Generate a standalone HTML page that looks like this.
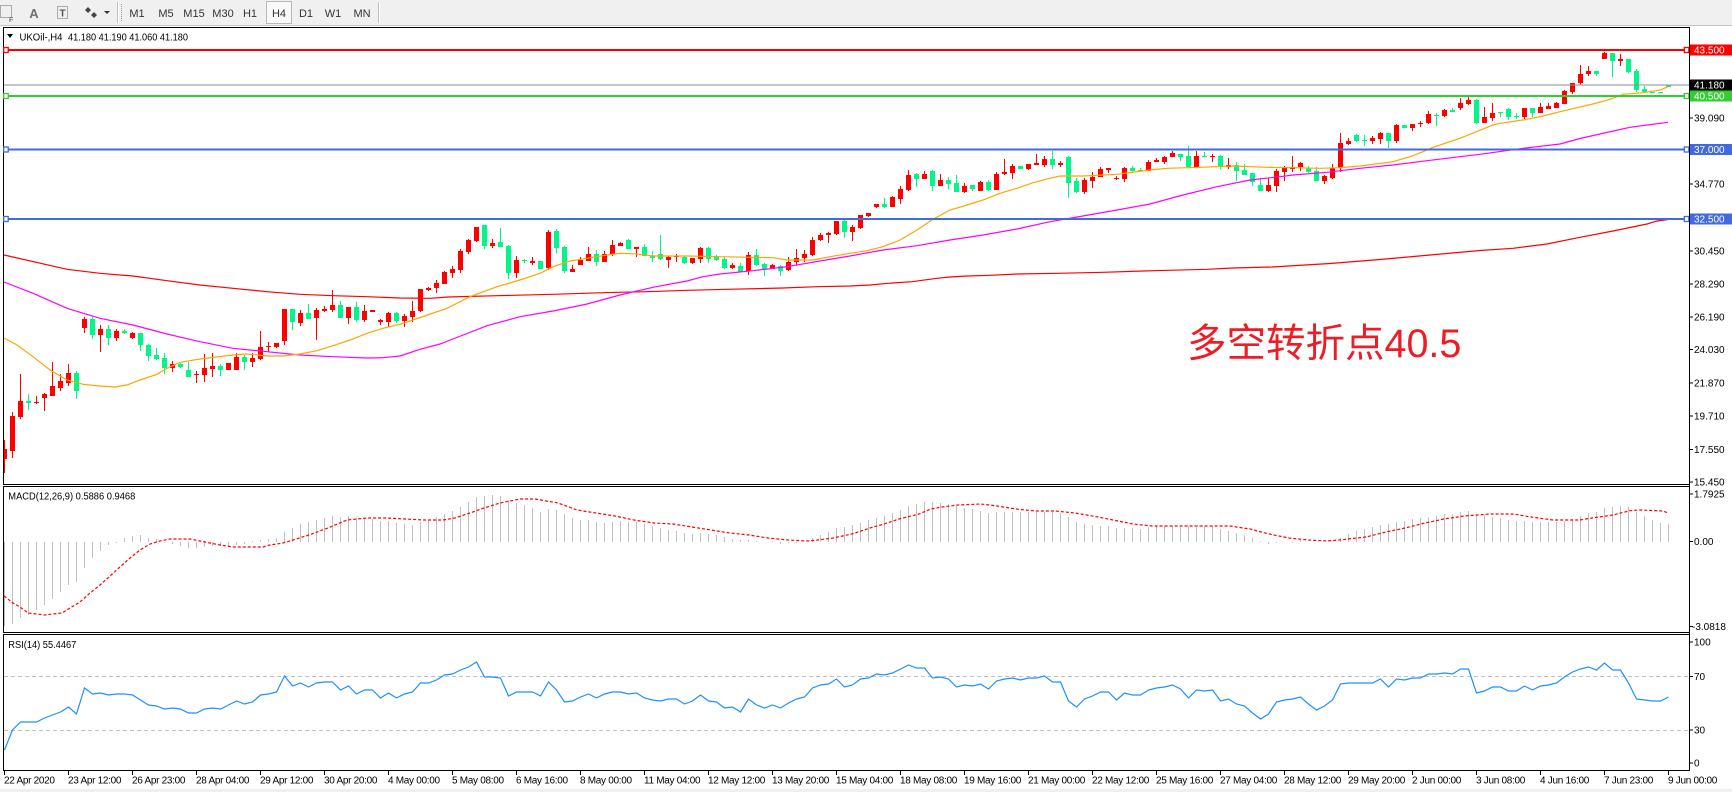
<!DOCTYPE html>
<html><head><meta charset="utf-8"><style>
html,body{margin:0;padding:0;background:#fff;overflow:hidden;width:1732px;height:792px}
svg{display:block}
text{font-family:"Liberation Sans",Arial,sans-serif}
</style></head><body>
<svg width="1732" height="792" viewBox="0 0 1732 792" xmlns="http://www.w3.org/2000/svg">
<defs><clipPath id="cm"><rect x="4" y="28" width="1685" height="457"/></clipPath></defs>
<rect x="0" y="0" width="1732" height="792" fill="#fff"/>
<!-- toolbar -->
<rect x="0" y="0" width="1732" height="25" fill="#f0f0f0"/>
<line x1="0" y1="25.5" x2="1732" y2="25.5" stroke="#c4c4c4"/>
<rect x="0.5" y="5.5" width="11" height="12" fill="none" stroke="#666" stroke-dasharray="1,1"/>
<text x="9" y="22" font-size="7" fill="#444">F</text>
<text x="34" y="18" font-size="13" font-weight="bold" fill="#707070" text-anchor="middle">A</text>
<rect x="57.5" y="6.5" width="10" height="12" fill="none" stroke="#666" stroke-dasharray="1,1"/>
<text x="62.5" y="16.5" font-size="10" font-weight="bold" fill="#555" text-anchor="middle">T</text>
<path d="M85 10l3-3 3 3-3 3zM91 15l3-3 3 3-3 3z" fill="#444"/>
<path d="M104 11h6l-3 3z" fill="#333"/>
<line x1="117.5" y1="2" x2="117.5" y2="23" stroke="#c0c0c0"/><line x1="118.5" y1="2" x2="118.5" y2="23" stroke="#fff"/>
<line x1="121.5" y1="4" x2="121.5" y2="22" stroke="#999" stroke-dasharray="1,1"/>
<rect x="266.5" y="1.5" width="25" height="22" fill="#f9f9f9" stroke="#b8b8b8"/>
<g font-size="11" fill="#333" text-anchor="middle">
<text x="137" y="17">M1</text><text x="166" y="17">M5</text><text x="194" y="17">M15</text><text x="223" y="17">M30</text><text x="250" y="17">H1</text><text x="279" y="17">H4</text><text x="306" y="17">D1</text><text x="333" y="17">W1</text><text x="362" y="17">MN</text>
</g>
<line x1="378.5" y1="2" x2="378.5" y2="23" stroke="#c0c0c0"/><line x1="379.5" y1="2" x2="379.5" y2="23" stroke="#fff"/>
<rect x="0" y="789" width="1732" height="3" fill="#f0f0f0"/>

<!-- panel borders -->
<g stroke="#000" stroke-width="1" fill="none">
<rect x="3.5" y="27.5" width="1686" height="457"/>
<rect x="3.5" y="486.5" width="1686" height="146"/>
<rect x="3.5" y="634.5" width="1686" height="136"/>
</g>

<!-- main chart -->
<g clip-path="url(#cm)" shape-rendering="crispEdges">
<path fill="none" stroke="#ff0000" stroke-width="1" d="M4.5 440V473M12.5 412V458M20.5 374V419M36.5 396V404M44.5 393V411M52.5 362V396M60.5 374V391M68.5 364V386M84.5 317V333M100.5 325V352M116.5 329V341M132.5 332V339M172.5 361V372M196.5 371V383M204.5 354V382M212.5 353V377M228.5 363V370M236.5 353V370M252.5 353V367M260.5 331V360M268.5 342V352M276.5 343V348M284.5 309V345M300.5 310V326M316.5 308V340M324.5 306V312M332.5 290V312M348.5 307V324M364.5 305V322M372.5 310V312M380.5 319V325M388.5 312V327M404.5 314V327M412.5 301V322M420.5 289V312M428.5 287V291M436.5 280V293M444.5 271V284M452.5 266V278M460.5 249V273M468.5 239V254M476.5 227V242M492.5 239V248M516.5 256V278M532.5 257V265M548.5 230V270M572.5 265V272M580.5 257V265M588.5 247V261M604.5 251V262M612.5 240V256M620.5 242V246M636.5 247V257M668.5 256V268M676.5 254V262M692.5 258V264M700.5 247V263M732.5 263V269M748.5 252V275M772.5 264V269M788.5 257V271M796.5 249V265M804.5 250V262M812.5 237V256M820.5 233V241M828.5 232V243M836.5 221V235M852.5 225V241M860.5 215V229M868.5 213V217M876.5 204V208M892.5 196V207M900.5 186V204M908.5 170V191M924.5 171V179M940.5 174V186M964.5 183V193M980.5 181V191M996.5 172V190M1004.5 159V175M1012.5 164V179M1028.5 164V170M1036.5 154V165M1044.5 156V167M1060.5 161V167M1084.5 178V194M1092.5 172V188M1100.5 167V177M1108.5 168V173M1116.5 176V180M1124.5 167V182M1148.5 160V171M1156.5 158V162M1164.5 156V164M1172.5 151V157M1196.5 151V168M1212.5 154V162M1228.5 158V169M1268.5 178V192M1276.5 169V192M1284.5 166V181M1292.5 156V172M1300.5 162V171M1324.5 175V184M1332.5 164V179M1340.5 133V172M1348.5 138V145M1372.5 136V144M1380.5 132V144M1396.5 124V143M1412.5 124V131M1420.5 121V127M1428.5 111V124M1444.5 109V117M1460.5 98V110M1468.5 97V105M1484.5 107V123M1492.5 103V121M1524.5 108V119M1540.5 103V113M1548.5 103V109M1556.5 102V108M1564.5 90V104M1572.5 83V94M1580.5 65V85M1588.5 66V76M1604.5 52V59M1620.5 54V66"/>
<path fill="#ff0000" d="M2 449h5v10h-5zM10 416h5v35h-5zM18 401h5v16h-5zM34 402h5v1h-5zM42 394h5v4h-5zM50 386h5v10h-5zM58 381h5v7h-5zM66 373h5v10h-5zM82 319h5v9h-5zM98 329h5v6h-5zM114 331h5v7h-5zM130 333h5v5h-5zM170 364h5v4h-5zM194 374h5v1h-5zM202 368h5v7h-5zM210 366h5v3h-5zM226 363h5v7h-5zM234 357h5v13h-5zM250 358h5v4h-5zM258 347h5v12h-5zM266 346h5v1h-5zM274 343h5v4h-5zM282 309h5v32h-5zM298 313h5v10h-5zM314 310h5v8h-5zM322 309h5v2h-5zM330 305h5v5h-5zM346 307h5v11h-5zM362 311h5v9h-5zM370 310h5v2h-5zM378 320h5v2h-5zM386 313h5v9h-5zM402 316h5v5h-5zM410 311h5v6h-5zM418 289h5v22h-5zM426 288h5v2h-5zM434 283h5v5h-5zM442 272h5v12h-5zM450 269h5v4h-5zM458 251h5v19h-5zM466 240h5v12h-5zM474 227h5v14h-5zM490 243h5v3h-5zM514 260h5v13h-5zM530 261h5v2h-5zM546 232h5v36h-5zM570 269h5v3h-5zM578 260h5v5h-5zM586 254h5v7h-5zM602 254h5v8h-5zM610 245h5v9h-5zM618 243h5v3h-5zM634 247h5v2h-5zM666 257h5v3h-5zM674 256h5v1h-5zM690 258h5v5h-5zM698 248h5v11h-5zM730 265h5v3h-5zM746 255h5v16h-5zM770 265h5v4h-5zM786 262h5v8h-5zM794 258h5v4h-5zM802 254h5v4h-5zM810 240h5v15h-5zM818 235h5v5h-5zM826 233h5v2h-5zM834 221h5v13h-5zM850 227h5v5h-5zM858 215h5v13h-5zM866 213h5v3h-5zM874 204h5v3h-5zM890 197h5v10h-5zM898 189h5v10h-5zM906 175h5v15h-5zM922 174h5v5h-5zM938 180h5v6h-5zM962 186h5v6h-5zM978 182h5v9h-5zM994 174h5v16h-5zM1002 172h5v2h-5zM1010 166h5v7h-5zM1026 164h5v5h-5zM1034 163h5v2h-5zM1042 159h5v6h-5zM1058 163h5v2h-5zM1082 180h5v12h-5zM1090 177h5v4h-5zM1098 169h5v8h-5zM1106 168h5v2h-5zM1114 178h5v1h-5zM1122 168h5v11h-5zM1146 162h5v9h-5zM1154 160h5v2h-5zM1162 157h5v5h-5zM1170 153h5v4h-5zM1194 156h5v11h-5zM1210 156h5v1h-5zM1226 165h5v2h-5zM1266 185h5v6h-5zM1274 171h5v15h-5zM1282 168h5v4h-5zM1290 167h5v2h-5zM1298 163h5v4h-5zM1322 176h5v5h-5zM1330 168h5v10h-5zM1338 143h5v25h-5zM1346 141h5v3h-5zM1370 138h5v3h-5zM1378 133h5v6h-5zM1394 125h5v16h-5zM1410 124h5v4h-5zM1418 123h5v1h-5zM1426 114h5v9h-5zM1442 110h5v6h-5zM1458 103h5v5h-5zM1466 100h5v4h-5zM1482 117h5v6h-5zM1490 113h5v5h-5zM1522 108h5v9h-5zM1538 107h5v6h-5zM1546 106h5v3h-5zM1554 103h5v5h-5zM1562 91h5v13h-5zM1570 83h5v9h-5zM1578 74h5v9h-5zM1586 71h5v3h-5zM1602 53h5v6h-5zM1618 59h5v2h-5z"/>
<path fill="none" stroke="#00f58a" stroke-width="1" d="M28.5 394V410M76.5 371V399M92.5 317V339M108.5 325V345M124.5 329V334M140.5 333V351M148.5 344V361M156.5 348V360M164.5 353V374M180.5 363V368M188.5 362V377M220.5 364V376M244.5 355V370M292.5 309V330M308.5 304V319M340.5 301V318M356.5 302V322M396.5 312V323M484.5 225V249M500.5 228V247M508.5 245V279M524.5 259V263M540.5 261V269M556.5 229V253M564.5 246V273M596.5 250V266M628.5 239V249M644.5 244V256M652.5 251V262M660.5 235V260M684.5 256V264M708.5 247V263M716.5 255V261M724.5 257V269M740.5 263V272M756.5 249V266M764.5 263V276M780.5 265V276M844.5 220V238M884.5 198V208M916.5 173V187M932.5 170V191M948.5 177V189M956.5 175V192M972.5 185V191M988.5 180V191M1020.5 166V169M1052.5 151V169M1068.5 156V198M1076.5 178V193M1132.5 166V173M1140.5 168V172M1180.5 154V161M1188.5 146V167M1204.5 152V157M1220.5 155V169M1236.5 162V181M1244.5 164V175M1252.5 173V186M1260.5 178V191M1308.5 166V173M1316.5 167V181M1356.5 134V142M1364.5 135V146M1388.5 133V148M1404.5 125V128M1436.5 113V126M1452.5 108V112M1476.5 99V124M1500.5 112V117M1508.5 108V120M1516.5 113V119M1532.5 108V117M1596.5 71V76M1612.5 53V77M1628.5 59V73M1636.5 69V92M1644.5 86V93M1652.5 92V93M1660.5 92V93M1668.5 85V87"/>
<path fill="#00f58a" d="M26 401h5v2h-5zM74 373h5v18h-5zM90 319h5v16h-5zM106 329h5v9h-5zM122 331h5v2h-5zM138 333h5v12h-5zM146 345h5v11h-5zM154 355h5v4h-5zM162 358h5v10h-5zM178 364h5v3h-5zM186 370h5v7h-5zM218 366h5v4h-5zM242 357h5v5h-5zM290 309h5v13h-5zM306 313h5v6h-5zM338 305h5v13h-5zM354 307h5v13h-5zM394 313h5v8h-5zM482 225h5v21h-5zM498 242h5v5h-5zM506 246h5v27h-5zM522 260h5v1h-5zM538 261h5v8h-5zM554 231h5v17h-5zM562 247h5v24h-5zM594 254h5v8h-5zM626 240h5v9h-5zM642 247h5v9h-5zM650 256h5v2h-5zM658 254h5v5h-5zM682 257h5v6h-5zM706 248h5v11h-5zM714 257h5v3h-5zM722 259h5v9h-5zM738 266h5v6h-5zM754 255h5v10h-5zM762 264h5v5h-5zM778 266h5v5h-5zM842 221h5v11h-5zM882 204h5v3h-5zM914 174h5v5h-5zM930 171h5v15h-5zM946 180h5v4h-5zM954 183h5v9h-5zM970 185h5v4h-5zM986 182h5v8h-5zM1018 166h5v3h-5zM1050 159h5v6h-5zM1066 157h5v26h-5zM1074 181h5v11h-5zM1130 168h5v3h-5zM1138 170h5v1h-5zM1178 154h5v3h-5zM1186 156h5v11h-5zM1202 156h5v1h-5zM1218 156h5v11h-5zM1234 165h5v6h-5zM1242 170h5v5h-5zM1250 173h5v9h-5zM1258 185h5v6h-5zM1306 168h5v4h-5zM1314 171h5v10h-5zM1354 135h5v6h-5zM1362 140h5v1h-5zM1386 133h5v8h-5zM1402 125h5v3h-5zM1434 115h5v1h-5zM1450 110h5v2h-5zM1474 100h5v23h-5zM1498 112h5v1h-5zM1506 109h5v8h-5zM1514 116h5v1h-5zM1530 108h5v5h-5zM1594 71h5v3h-5zM1610 53h5v8h-5zM1626 59h5v13h-5zM1634 71h5v19h-5zM1642 89h5v3h-5zM1650 92h5v1h-5zM1658 92h5v1h-5zM1666 85h5v2h-5z"/>
</g>
<g clip-path="url(#cm)" fill="none" stroke-width="1.2">
<polyline stroke="#ff0000" points="4,255 67,269.3 100,273.3 133,276 167,280.7 200,285 233,288.3 267,291.7 300,294.3 333,295.7 367,296.7 400,298 430,298.3 448,297 497,295.7 553,294.3 583,293.3 617,292.3 647,291.7 687,290.3 727,289.3 783,288 817,286.7 850,286 870,285 888,283.3 912,281.7 937,278.3 950,277 967,276 990,275.3 1017,274 1057,273.3 1103,272.3 1143,271 1167,270.3 1207,269.3 1233,268 1272,267 1330,263.5 1380,259.5 1430,255 1480,250.5 1513,248.3 1547,244 1580,237.3 1613,231 1647,224 1657,221 1668,219.5"/>
<polyline stroke="#ff00ff" points="4,282 33,293.3 67,308.3 100,318.3 133,325 167,334 200,341.7 233,348.3 267,351.7 300,355 333,356.7 367,358 383,357.7 400,356 420,349.3 440,344 453,339 487,325.7 520,316.7 553,311 587,304 620,295 653,287.3 687,281 703,276.7 720,274 753,270.7 787,266.7 820,261 850,256 883,250 917,245.7 950,240 983,235 1017,229 1050,221.7 1083,216 1117,210 1150,204 1183,195 1217,186.7 1250,180 1280,176.7 1293,175 1327,172.3 1360,168.3 1393,165 1427,160.7 1460,156.7 1480,154.3 1523,148.3 1560,144 1580,138.5 1600,134 1630,127.3 1668,122.3"/>
<polyline stroke="#ffa500" points="4,338 17,345 33,356.7 50,370 67,380 83,384.3 100,386 115,387 127,385 140,380 157,374.3 167,368.3 180,362.3 200,359 233,355 247,354 267,356 283,356 300,354 317,350.7 333,345.7 350,340 367,333.3 383,328.3 400,324.3 420,317.5 447,308.3 470,296.7 497,286.7 520,280 540,273.3 553,266.7 570,261 587,258.3 607,255 620,253.3 637,254 653,256 687,256 720,256.7 753,257.3 773,257.7 787,260 813,260 830,256.7 850,253.3 867,250.7 883,246.7 900,240 917,230 933,219.3 950,210 967,205 983,200 1000,193.3 1017,188.3 1033,182.7 1050,178.3 1060,176 1083,176 1117,174.3 1150,170 1167,168.3 1200,167.3 1233,166 1267,167.3 1293,167.7 1320,168.3 1340,167.7 1360,166 1393,161.7 1410,156.7 1423,151.7 1433,147.3 1460,138.3 1493,125 1500,123.3 1527,119.3 1543,116 1560,111.7 1577,107.7 1593,104 1610,99.3 1623,94.3 1643,92.7 1660,90 1668,86.7"/>
</g>

<!-- horizontal objects -->
<line x1="4" y1="85" x2="1689" y2="85" stroke="#8c8c8c" stroke-width="1"/>
<line x1="4" y1="50" x2="1689" y2="50" stroke="#ff0000" stroke-width="2"/>
<line x1="4" y1="96" x2="1689" y2="96" stroke="#32cd32" stroke-width="2"/>
<line x1="4" y1="149.5" x2="1689" y2="149.5" stroke="#4169e1" stroke-width="2"/>
<line x1="4" y1="219" x2="1689" y2="219" stroke="#4169e1" stroke-width="2"/>
<g fill="#fff" stroke-width="1.3">
<rect x="3.7" y="47.5" width="4.5" height="5" stroke="#ff0000"/>
<rect x="3.7" y="93.5" width="4.5" height="5" stroke="#32cd32"/>
<rect x="3.7" y="147" width="4.5" height="5" stroke="#4169e1"/>
<rect x="3.7" y="216.5" width="4.5" height="5" stroke="#4169e1"/>
<rect x="1684.3" y="47.5" width="4.5" height="5" stroke="#ff0000"/>
<rect x="1684.3" y="93.5" width="4.5" height="5" stroke="#32cd32"/>
<rect x="1684.3" y="147" width="4.5" height="5" stroke="#4169e1"/>
<rect x="1684.3" y="216.5" width="4.5" height="5" stroke="#4169e1"/>
</g>

<!-- header -->
<path d="M7 34h6l-3 4z" fill="#000"/>
<text x="19.5" y="40.3" font-size="10" fill="#000" textLength="43" lengthAdjust="spacingAndGlyphs">UKOil-,H4</text>
<text x="68" y="40.3" font-size="10" fill="#000" textLength="120" lengthAdjust="spacingAndGlyphs">41.180 41.190 41.060 41.180</text>

<!-- annotation -->
<text x="1187" y="357" font-size="39.5" fill="#ee1c24" style='font-family:"Liberation Sans","Noto Sans CJK SC",sans-serif'>多空转折点40.5</text>

<!-- price axis -->
<g stroke="#000" stroke-width="1">
<path d="M1689 118h4M1689 184h4M1689 251h4M1689 284h4M1689 317h4M1689 349.5h4M1689 383h4M1689 416h4M1689 449.5h4M1689 482h4M1689 494h4M1689 541.5h4M1689 626.5h4M1689 642h4M1689 676.5h4M1689 730h4M1689 763h4"/>
</g>
<g font-size="10" fill="#000">
<text x="1694" y="121.6">39.090</text>
<text x="1694" y="187.6">34.770</text>
<text x="1694" y="254.6">30.450</text>
<text x="1694" y="287.6">28.290</text>
<text x="1694" y="320.6">26.190</text>
<text x="1694" y="353.1">24.030</text>
<text x="1694" y="386.6">21.870</text>
<text x="1694" y="419.6">19.710</text>
<text x="1694" y="453.1">17.550</text>
<text x="1694" y="485.6">15.450</text>
<text x="1694" y="497.6">1.7925</text>
<text x="1694" y="545.1">0.00</text>
<text x="1692" y="630">-3.0818</text>
<text x="1694" y="645.6">100</text>
<text x="1694" y="680.1">70</text>
<text x="1694" y="733.6">30</text>
<text x="1694" y="766.6">0</text>
</g>
<rect x="1690" y="44.5" width="42" height="11" fill="#ff0000"/>
<rect x="1690" y="79.5" width="42" height="11" fill="#000"/>
<rect x="1690" y="90.5" width="42" height="11" fill="#32cd32"/>
<rect x="1690" y="144" width="42" height="11" fill="#4169e1"/>
<rect x="1690" y="213.5" width="42" height="11" fill="#4169e1"/>
<g font-size="10" fill="#fff">
<text x="1694" y="53.6">43.500</text>
<text x="1694" y="88.6">41.180</text>
<text x="1694" y="99.6">40.500</text>
<text x="1694" y="153.1">37.000</text>
<text x="1694" y="222.6">32.500</text>
</g>

<!-- MACD -->
<text x="8.3" y="499.3" font-size="10" fill="#000" textLength="127" lengthAdjust="spacingAndGlyphs">MACD(12,26,9) 0.5886 0.9468</text>
<path fill="none" stroke="#c0c0c0" stroke-width="1" shape-rendering="crispEdges" d="M4.5 542V626M12.5 542V624M20.5 542V618M28.5 542V615M36.5 542V610M44.5 542V605M52.5 542V599M60.5 542V592M68.5 542V585M76.5 542V582M84.5 542V568M92.5 542V558M100.5 542V551M108.5 542V545M116.5 542V543M124.5 542V538M132.5 542V536M140.5 542V535M148.5 542V538M156.5 542V539M164.5 542V543M172.5 542V544M180.5 542V546M188.5 542V548M196.5 542V548M204.5 542V547M212.5 542V546M220.5 542V546M228.5 542V546M236.5 542V545M244.5 542V544M252.5 542V541M260.5 542V540M268.5 542V539M276.5 542V538M284.5 542V532M292.5 542V528M300.5 542V524M308.5 542V522M316.5 542V520M324.5 542V518M332.5 542V516M340.5 542V517M348.5 542V516M356.5 542V518M364.5 542V518M372.5 542V519M380.5 542V521M388.5 542V521M396.5 542V523M404.5 542V524M412.5 542V525M420.5 542V522M428.5 542V520M436.5 542V517M444.5 542V514M452.5 542V511M460.5 542V507M468.5 542V502M476.5 542V497M484.5 542V496M492.5 542V495M500.5 542V496M508.5 542V500M516.5 542V503M524.5 542V505M532.5 542V508M540.5 542V512M548.5 542V509M556.5 542V510M564.5 542V514M572.5 542V518M580.5 542V520M588.5 542V520M596.5 542V522M604.5 542V523M612.5 542V522M620.5 542V521M628.5 542V522M636.5 542V522M644.5 542V524M652.5 542V526M660.5 542V528M668.5 542V530M676.5 542V531M684.5 542V533M692.5 542V534M700.5 542V533M708.5 542V534M716.5 542V535M724.5 542V537M732.5 542V539M740.5 542V540M748.5 542V540M756.5 542V541M772.5 542V541M780.5 542V544M788.5 542V543M796.5 542V543M812.5 542V538M820.5 542V535M828.5 542V532M836.5 542V528M844.5 542V527M852.5 542V525M860.5 542V523M868.5 542V520M876.5 542V518M884.5 542V516M892.5 542V513M900.5 542V510M908.5 542V506M916.5 542V504M924.5 542V502M932.5 542V502M940.5 542V503M948.5 542V504M956.5 542V506M964.5 542V508M972.5 542V509M980.5 542V511M988.5 542V513M996.5 542V512M1004.5 542V512M1012.5 542V512M1020.5 542V512M1028.5 542V512M1036.5 542V512M1044.5 542V512M1052.5 542V512M1060.5 542V513M1068.5 542V517M1076.5 542V522M1084.5 542V524M1092.5 542V525M1100.5 542V526M1108.5 542V526M1116.5 542V528M1124.5 542V528M1132.5 542V528M1140.5 542V529M1148.5 542V527M1156.5 542V526M1164.5 542V526M1172.5 542V526M1180.5 542V527M1188.5 542V526M1196.5 542V527M1204.5 542V527M1212.5 542V526M1220.5 542V529M1228.5 542V531M1236.5 542V533M1244.5 542V535M1252.5 542V538M1260.5 542V541M1268.5 542V544M1276.5 542V543M1292.5 542V543M1300.5 542V540M1340.5 542V538M1348.5 542V534M1356.5 542V531M1364.5 542V529M1372.5 542V527M1380.5 542V525M1388.5 542V524M1396.5 542V522M1404.5 542V521M1412.5 542V519M1420.5 542V518M1428.5 542V517M1436.5 542V516M1444.5 542V514M1452.5 542V514M1460.5 542V512M1468.5 542V511M1476.5 542V515M1484.5 542V515M1492.5 542V517M1500.5 542V518M1508.5 542V520M1516.5 542V521M1524.5 542V521M1532.5 542V522M1540.5 542V522M1548.5 542V522M1556.5 542V522M1564.5 542V521M1572.5 542V519M1580.5 542V516M1588.5 542V513M1596.5 542V512M1604.5 542V508M1612.5 542V507M1620.5 542V506M1628.5 542V507M1636.5 542V512M1644.5 542V516M1652.5 542V520M1660.5 542V523M1668.5 542V524"/>
<polyline fill="none" stroke="#ff0000" stroke-width="1.2" stroke-dasharray="3,2" points="4,596 13,603 20,607 28,613 37,614 45,615 53,614 62,613 70,608 80,602 90,593 100,585 110,576 120,567 130,558 140,550 150,544 160,541 170,539 190,539 200,541 210,543 220,545 233,547 263,547 270,545 283,543 293,540 309,535 328,528 347,520 367,518 386,518 405,519 424,520 443,520 455,518 470,513 481,509 500,503 520,499 535,499 558,503 577,510 596,513 615,516 634,520 654,523 673,524 692,527 711,530 730,533 749,535 768,538 788,540 807,541 818,540 833,538 852,534 870,528 884,524 899,519 919,514 931,509 942,507 958,505 981,504 997,506 1016,509 1036,511 1055,511 1075,513 1098,517 1113,520 1133,524 1152,526 1191,526 1230,526 1250,529 1269,534 1289,538 1308,540 1327,541 1339,540 1366,537 1386,532 1405,528 1425,523 1444,519 1464,516 1490,514 1513,514 1523,515.7 1533,517.3 1553,520 1580,520 1590,518.3 1613,515 1630,510.7 1640,510 1663,511 1668,513"/>

<!-- RSI -->
<text x="8.3" y="648" font-size="10" fill="#000" textLength="68" lengthAdjust="spacingAndGlyphs">RSI(14) 55.4467</text>
<line x1="4" y1="676.5" x2="1689" y2="676.5" stroke="#c0c0c0" stroke-dasharray="4,3"/>
<line x1="4" y1="730.5" x2="1689" y2="730.5" stroke="#c0c0c0" stroke-dasharray="4,3"/>
<polyline fill="none" stroke="#1e90ff" stroke-width="1.2" points="4.5,750 12.5,730 20.5,722 28.5,722 36.5,722 44.5,718 52.5,715 60.5,712 68.5,707 76.5,714 84.5,688 92.5,694 100.5,693 108.5,695 116.5,694 124.5,694 132.5,695 140.5,700 148.5,705 156.5,706 164.5,709 172.5,708 180.5,709 188.5,713 196.5,713 204.5,709 212.5,708 220.5,709 228.5,705 236.5,701 244.5,704 252.5,702 260.5,695 268.5,694 276.5,692 284.5,676 292.5,686 300.5,683 308.5,687 316.5,683 324.5,682 332.5,682 340.5,690 348.5,686 356.5,694 364.5,690 372.5,690 380.5,698 388.5,693 396.5,698 404.5,694 412.5,692 420.5,683 428.5,683 436.5,680 444.5,675 452.5,674 460.5,670 468.5,667 476.5,662 484.5,677 492.5,677 500.5,678 508.5,696 516.5,692 524.5,692 532.5,692 540.5,696 548.5,682 556.5,690 564.5,702 572.5,701 580.5,697 588.5,694 596.5,698 604.5,694 612.5,692 620.5,692 628.5,694 636.5,693 644.5,698 652.5,700 660.5,701 668.5,699 676.5,699 684.5,704 692.5,701 700.5,695 708.5,701 716.5,702 724.5,708 732.5,707 740.5,712 748.5,699 756.5,705 764.5,708 772.5,705 780.5,708 788.5,703 796.5,699 804.5,697 812.5,688 820.5,685 828.5,684 836.5,679 844.5,687 852.5,685 860.5,679 868.5,678 876.5,674 884.5,675 892.5,673 900.5,669 908.5,665 916.5,668 924.5,668 932.5,678 940.5,677 948.5,679 956.5,687 964.5,685 972.5,686 980.5,684 988.5,689 996.5,681 1004.5,679 1012.5,678 1020.5,680 1028.5,678 1036.5,678 1044.5,676 1052.5,682 1060.5,682 1068.5,701 1076.5,707 1084.5,699 1092.5,696 1100.5,692 1108.5,692 1116.5,700 1124.5,693 1132.5,695 1140.5,695 1148.5,690 1156.5,688 1164.5,687 1172.5,685 1180.5,689 1188.5,698 1196.5,690 1204.5,691 1212.5,690 1220.5,701 1228.5,699 1236.5,704 1244.5,706 1252.5,713 1260.5,719 1268.5,714 1276.5,702 1284.5,700 1292.5,699 1300.5,697 1308.5,704 1316.5,710 1324.5,706 1332.5,700 1340.5,684 1348.5,683 1356.5,683 1364.5,683 1372.5,683 1380.5,679 1388.5,687 1396.5,679 1404.5,680 1412.5,678 1420.5,678 1428.5,674 1436.5,674 1444.5,673 1452.5,674 1460.5,669 1468.5,669 1476.5,693 1484.5,691 1492.5,687 1500.5,687 1508.5,691 1516.5,691 1524.5,686 1532.5,690 1540.5,686 1548.5,685 1556.5,683 1564.5,677 1572.5,672 1580.5,669 1588.5,667 1596.5,670 1604.5,663 1612.5,670 1620.5,670 1628.5,683 1636.5,699 1644.5,700 1652.5,701 1660.5,701 1668.5,697"/>

<!-- time axis -->
<path stroke="#000" stroke-width="1" d="M4.5 771v4M68.5 771v4M132.5 771v4M196.5 771v4M260.5 771v4M324.5 771v4M388.5 771v4M452.5 771v4M516.5 771v4M580.5 771v4M644.5 771v4M708.5 771v4M772.5 771v4M836.5 771v4M900.5 771v4M964.5 771v4M1028.5 771v4M1092.5 771v4M1156.5 771v4M1220.5 771v4M1284.5 771v4M1348.5 771v4M1412.5 771v4M1476.5 771v4M1540.5 771v4M1604.5 771v4M1668.5 771v4"/>
<g font-size="10" fill="#000" letter-spacing="-0.3">
<text x="4" y="783.6">22 Apr 2020</text>
<text x="68" y="783.6">23 Apr 12:00</text>
<text x="132" y="783.6">26 Apr 23:00</text>
<text x="196" y="783.6">28 Apr 04:00</text>
<text x="260" y="783.6">29 Apr 12:00</text>
<text x="324" y="783.6">30 Apr 20:00</text>
<text x="388" y="783.6">4 May 00:00</text>
<text x="452" y="783.6">5 May 08:00</text>
<text x="516" y="783.6">6 May 16:00</text>
<text x="580" y="783.6">8 May 00:00</text>
<text x="644" y="783.6">11 May 04:00</text>
<text x="708" y="783.6">12 May 12:00</text>
<text x="772" y="783.6">13 May 20:00</text>
<text x="836" y="783.6">15 May 04:00</text>
<text x="900" y="783.6">18 May 08:00</text>
<text x="964" y="783.6">19 May 16:00</text>
<text x="1028" y="783.6">21 May 00:00</text>
<text x="1092" y="783.6">22 May 12:00</text>
<text x="1156" y="783.6">25 May 16:00</text>
<text x="1220" y="783.6">27 May 04:00</text>
<text x="1284" y="783.6">28 May 12:00</text>
<text x="1348" y="783.6">29 May 20:00</text>
<text x="1412" y="783.6">2 Jun 00:00</text>
<text x="1476" y="783.6">3 Jun 08:00</text>
<text x="1540" y="783.6">4 Jun 16:00</text>
<text x="1604" y="783.6">7 Jun 23:00</text>
<text x="1668" y="783.6">9 Jun 00:00</text>
</g>
<line x1="1689.5" y1="27" x2="1689.5" y2="771" stroke="#000"/>
</svg>
</body></html>
